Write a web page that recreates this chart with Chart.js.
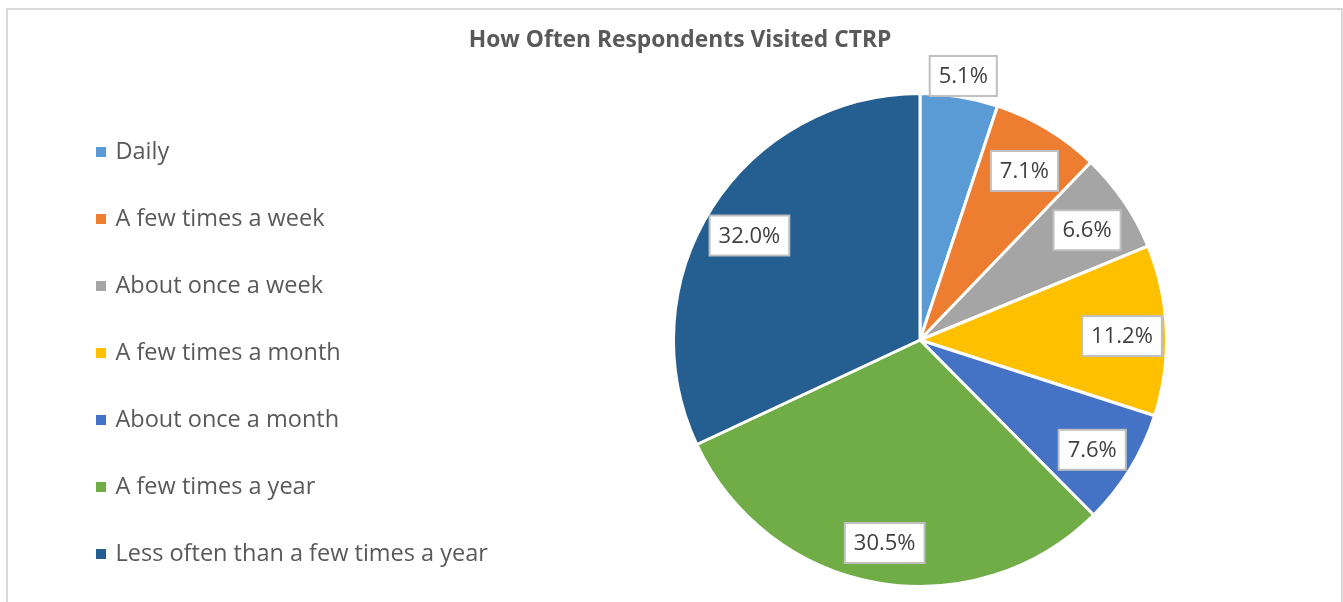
<!DOCTYPE html>
<html>
<head>
<meta charset="utf-8">
<script src="https://cdn.jsdelivr.net/npm/chart.js@4.4.0/dist/chart.umd.min.js"></script>
<style>
    body { margin: 0; background: #fff; }
    #frame {
        position: absolute; left: 6px; top: 8px; width: 1333px; height: 620px;
        border: 2px solid #d9d9d9; border-bottom: none;
    }
    #chart-title {
        position: absolute; left: 0; top: 23px; width: 1360px; text-align: center;
        font-family: "Open Sans", sans-serif; font-weight: bold; font-size: 22.8px; color: #595959;
    }
    #chart-space { position: absolute; left: 0; top: 0; }
    #legend { position: absolute; left: 96px; top: 116px; }
    .legend-item {
        height: 67px; display: flex; align-items: center;
        font-family: "Open Sans", sans-serif; font-size: 23.5px; color: #595959; white-space: nowrap;
    }
    .legend-box { width: 10px; height: 10px; margin-right: 9.5px; position: relative; top: 2px; }
</style>
</head>
<body>
<div id="frame"></div>
<canvas id="chart-space" width="1343" height="602"></canvas>
<div id="chart-title">How Often Respondents Visited CTRP</div>
<div id="legend"></div>
<script>
const categories = ["Daily", "A few times a week", "About once a week", "A few times a month",
    "About once a month", "A few times a year", "Less often than a few times a year"];
const percentages = [5.1, 7.1, 6.6, 11.2, 7.6, 30.5, 32.0];
const sliceColours = ["#5b9bd5", "#ed7d31", "#a5a5a5", "#ffc000", "#4472c4", "#70ad47", "#255e91"];

const chartSpace = document.querySelector("#chart-space").getContext('2d');
const legendContainer = document.querySelector("#legend");

// legend as html so the spacing matches the original
categories.forEach((name, i) => {
    const item = document.createElement('div');
    item.className = 'legend-item';
    const box = document.createElement('span');
    box.className = 'legend-box';
    box.style.background = sliceColours[i];
    const label = document.createElement('span');
    label.textContent = name;
    item.appendChild(box);
    item.appendChild(label);
    legendContainer.appendChild(item);
});

// boxed percentage labels, small slices go outside the pie
const boxedLabels = {
    id: 'boxedLabels',
    afterDatasetsDraw(chart) {
        const ctx = chart.ctx;
        const arcs = chart.getDatasetMeta(0).data;
        ctx.save();
        ctx.font = '22px "Open Sans", sans-serif';
        ctx.textAlign = 'center';
        ctx.textBaseline = 'middle';
        arcs.forEach((arc, i) => {
            const value = percentages[i];
            const mid = (arc.startAngle + arc.endAngle) / 2;
            const r = value < 6 ? arc.outerRadius + 25 : arc.outerRadius * 0.82;
            const x = arc.x + Math.cos(mid) * r;
            const y = arc.y + Math.sin(mid) * r + 4;
            const text = value.toFixed(1) + '%';
            const w = ctx.measureText(text).width + 18;
            const h = 40;
            ctx.fillStyle = '#ffffff';
            ctx.fillRect(x - w / 2, y - h / 2, w, h);
            ctx.strokeStyle = '#bfbfbf';
            ctx.lineWidth = 2;
            ctx.strokeRect(x - w / 2, y - h / 2, w, h);
            ctx.fillStyle = '#404040';
            ctx.fillText(text, x, y + 1);
        });
        ctx.restore();
    }
};

const chart = new Chart(chartSpace, {
    type: 'pie',
    data: {
        labels: categories,
        datasets: [{
            data: percentages,
            backgroundColor: sliceColours,
            borderColor: '#ffffff',
            borderWidth: 3
        }]
    },
    options: {
        responsive: false,
        animation: false,
        layout: { padding: { left: 497, top: 92, right: 0, bottom: 14 } },
        plugins: {
            title: { display: false },
            tooltip: { enabled: false },
            legend: { display: false }
        }
    },
    plugins: [boxedLabels]
});
</script>
</body>
</html>
